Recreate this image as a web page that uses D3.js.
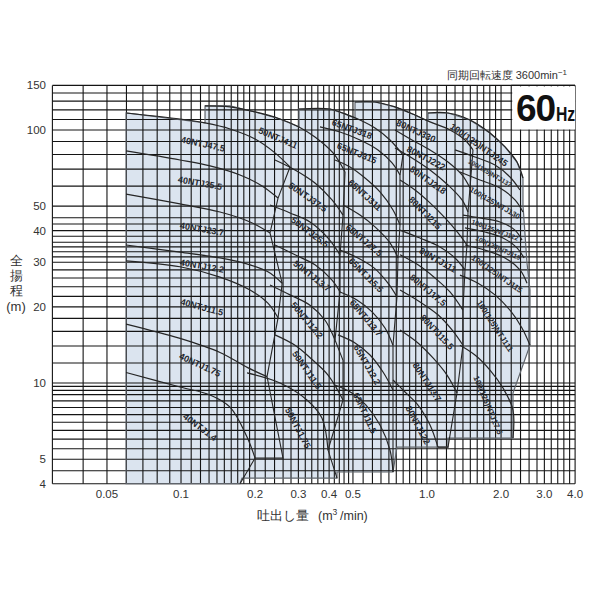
<!DOCTYPE html>
<html lang="ja">
<head>
<meta charset="utf-8">
<title>60Hz pump chart</title>
<script src="https://cdn.jsdelivr.net/npm/d3@7"></script>
<style>
  body { margin: 0; background: #fff; }
  text { font-family: "Liberation Sans", Arial, sans-serif; }
</style>
</head>
<body>
<div id="chart"></div>
<script>
// grid / tick values
var xGrid = [0.03, 0.04, 0.05, 0.06, 0.07, 0.08, 0.09, 0.1,
  0.11, 0.12, 0.13, 0.14, 0.15, 0.16, 0.17, 0.18, 0.19, 0.2,
  0.22, 0.24, 0.26, 0.28, 0.3, 0.32, 0.34, 0.36, 0.38, 0.4,
  0.42, 0.44, 0.46, 0.48, 0.5,
  0.55, 0.6, 0.65, 0.7, 0.75, 0.8, 0.85, 0.9, 0.95, 1.0,
  1.1, 1.2, 1.3, 1.4, 1.5, 1.6, 1.7, 1.8, 1.9, 2.0,
  2.2, 2.4, 2.6, 2.8, 3.0, 3.2, 3.4, 3.6, 3.8, 4.0];
var yGrid = [4, 4.5, 5, 5.5, 6, 6.5, 7, 7.5, 8, 8.5, 9, 9.35, 9.7, 10,
  12, 14, 16, 18, 20, 22, 24, 26, 28, 30, 31.5, 33, 34.5, 36, 38, 40, 42.5, 45, 50,
  60, 70, 80, 90, 100, 110, 120, 130, 140, 150];
var xTicks = [0.05, 0.1, 0.2, 0.3, 0.4, 0.5, 1.0, 2.0, 3.0, 4.0];
var xTickText = ["0.05", "0.1", "0.2", "0.3", "0.4", "0.5", "1.0", "2.0", "3.0", "4.0"];
var yTicks = [4, 5, 10, 20, 30, 40, 50, 100, 150];

// light-blue selection area  [Q m3/min, H m]
var area = [[0.0598, 4.0], [0.0598, 116.7], [0.1252, 106.6], [0.1252, 124.4], [0.1582, 124.4],
  [0.2, 117.8], [0.2526, 110.5], [0.3017, 102.8], [0.3017, 121.0], [0.4034, 121.0],
  [0.4642, 115.7], [0.5097, 111.5], [0.5097, 129.0], [0.6146, 129.0], [0.7411, 123.3],
  [0.8939, 114.6], [1.009, 108.5], [1.009, 116.7], [1.2172, 116.7], [1.4952, 109.5],
  [1.8032, 97.3], [2.0754, 85.7], [2.322, 74.7], [2.4557, 64.6], [2.4557, 50.5],
  [2.55, 29.8], [2.6226, 23.3], [2.6226, 14.1], [2.2365, 9.13], [2.2365, 6.06],
  [1.2172, 6.06], [1.2172, 5.58], [0.755, 5.58], [0.7274, 4.45], [0.4307, 4.45],
  [0.4307, 4.21], [0.177, 4.21], [0.1737, 4.0]];

// 40NTJ  47.5 / 35.5 / 23.7 / 12.2 / 11.5 / 1.75 / 1.4
var nt40 = [
  [[0.0598, 116.7], [0.0991, 110.5], [0.1252, 106.6], [0.1582, 100.9], [0.2, 92.1], [0.241, 81.2], [0.2774, 71.4]],
  [[0.0598, 82.6], [0.0991, 76.1], [0.1312, 72.1], [0.1737, 66.4], [0.2135, 60.1], [0.248, 53.8]],
  [[0.0598, 55.8], [0.0991, 51.0], [0.144, 47.4], [0.1908, 43.3], [0.23, 39.2]],
  [[0.0598, 35.1], [0.0991, 32.9], [0.144, 31.2], [0.1908, 29.3], [0.2255, 27.5], [0.2577, 24.8]],
  [[0.0598, 30.4], [0.0991, 28.8], [0.144, 26.2], [0.1908, 23.3], [0.2255, 20.7], [0.248, 18.1]],
  [[0.0598, 17.1], [0.0991, 15.0], [0.144, 13.2], [0.1866, 11.5], [0.2237, 10.6]],
  [[0.0598, 11.0], [0.0991, 9.64], [0.1312, 8.97], [0.1582, 8.03], [0.1855, 6.12], [0.2, 5.05]]
];
// 50NTJ  411 / 37.5 / 25.5 / 13.7 / 12.2 / 11.5 / 1.75
var nt50 = [
  [[0.1252, 124.4], [0.1582, 123.3], [0.2, 117.8], [0.2526, 110.5], [0.3017, 102.8], [0.3504, 93.8], [0.415, 81.1], [0.4642, 68.2]],
  [[0.241, 76.1], [0.2907, 69.5], [0.3504, 61.7], [0.411, 52.9], [0.4556, 46.1]],
  [[0.23, 50.5], [0.2774, 47.0], [0.3344, 43.3], [0.396, 37.4], [0.443, 32.1]],
  [[0.241, 35.1], [0.2907, 32.1], [0.3504, 29.3], [0.411, 25.5], [0.443, 22.9]],
  [[0.23, 24.4], [0.2774, 22.3], [0.3344, 20.3], [0.385, 17.7], [0.4227, 14.8]],
  [[0.241, 15.5], [0.2907, 14.1], [0.3376, 12.5], [0.396, 10.75], [0.4556, 8.57]],
  [[0.1855, 10.96], [0.2526, 10.0], [0.325, 8.57], [0.374, 7.27], [0.396, 5.43]]
];
// 65NTJ  318 / 315 / 311 / 27.5 / 15.5 / 13.7 / 12.2 / 11.5
var nt65 = [
  [[0.3017, 121.0], [0.4034, 121.0], [0.4642, 115.7], [0.534, 109.5], [0.6146, 101.8], [0.7073, 91.3], [0.7988, 79.7]],
  [[0.3673, 102.8], [0.443, 98.2], [0.534, 91.3], [0.632, 83.4], [0.721, 74.1], [0.7767, 66.4]],
  [[0.4227, 76.1], [0.4864, 71.4], [0.5598, 64.6], [0.644, 56.9], [0.7274, 48.3], [0.7767, 42.1]],
  [[0.4556, 50.5], [0.534, 46.1], [0.6146, 41.4], [0.7073, 35.8], [0.762, 31.2]],
  [[0.443, 33.5], [0.524, 31.2], [0.609, 28.5], [0.694, 24.8], [0.755, 21.9]],
  [[0.443, 22.9], [0.519, 21.3], [0.598, 19.1], [0.675, 16.5], [0.7274, 14.1]],
  [[0.4346, 15.5], [0.51, 14.4], [0.5865, 12.9], [0.6625, 11.05], [0.7274, 9.38]],
  [[0.4227, 9.82], [0.4955, 9.13], [0.565, 8.18], [0.644, 6.82], [0.7073, 5.43], [0.7274, 4.45]]
];
// 80NTJ  330 / 222 / 218 / 215 / 111 / 17.5 / 15.5 / 13.7 / 122
var nt80 = [
  [[0.5097, 129.0], [0.6146, 129.0], [0.7411, 123.3], [0.8939, 114.6], [1.0285, 107.6], [1.24, 100], [1.427, 91.3], [1.538, 83.4]],
  [[0.7411, 100], [0.869, 91.3], [1.0285, 83.4], [1.2172, 74.7], [1.388, 66.4], [1.4952, 59.0]],
  [[0.7411, 84.9], [0.869, 77.5], [1.0285, 69.5], [1.2172, 60.6], [1.388, 52.9], [1.468, 47.4]],
  [[0.7767, 63.4], [0.8939, 57.9], [1.0285, 51.5], [1.1835, 44.9], [1.337, 39.2], [1.454, 35.1]],
  [[0.7767, 40.2], [0.9366, 37.4], [1.1293, 34.5], [1.2995, 31.2], [1.427, 28.0]],
  [[0.7767, 32.1], [0.919, 29.3], [1.0777, 26.0], [1.24, 22.9], [1.4, 19.4]],
  [[0.7767, 23.3], [0.9366, 20.9], [1.108, 18.6], [1.264, 16.2], [1.4, 14.1]],
  [[0.7767, 16.2], [0.919, 14.4], [1.058, 12.56], [1.206, 10.75], [1.324, 9.13]],
  [[0.7274, 10.28], [0.8139, 9.21], [0.919, 8.18], [1.0285, 6.82], [1.108, 5.58]]
];
// 100(125)NTJ  245 / 137 / 130 / 122 / 119 / 115 / 111 / 17.5
var nt100 = [
  [[1.009, 116.7], [1.2172, 116.7], [1.4952, 109.5], [1.8032, 97.3], [2.0754, 85.7], [2.322, 74.7], [2.4557, 64.6]],
  [[1.2995, 83.4], [1.5668, 78.2], [1.8894, 72.7], [2.1746, 65.2], [2.3878, 57.9]],
  [[1.3617, 68.2], [1.6419, 63.4], [1.98, 59.0], [2.2788, 52.9], [2.4557, 47.4]],
  [[1.4, 46.1], [1.6419, 44.9], [1.98, 43.3], [2.2788, 40.2], [2.433, 36.7]],
  [[1.427, 41.0], [1.7208, 39.5], [2.037, 37.4], [2.322, 34.2], [2.48, 31.2]],
  [[1.427, 35.1], [1.7208, 33.5], [2.0754, 31.2], [2.3878, 28.0], [2.55, 24.8]],
  [[1.3617, 26.7], [1.612, 24.8], [1.8894, 22.3], [2.1746, 19.4], [2.433, 16.5], [2.6226, 14.1]],
  [[1.3617, 14.1], [1.5668, 12.9], [1.8032, 11.25], [2.037, 9.55], [2.2365, 7.82], [2.2365, 6.06]]
];

// lines joining the curve ends (range limits)
var limits = [
  [[0.2774, 71.4], [0.248, 53.8], [0.23, 39.2], [0.2577, 24.8], [0.248, 18.1], [0.2237, 10.6], [0.2598, 5.05], [0.2, 5.05], [0.1737, 4.0]],
  [[0.4642, 68.2], [0.4556, 46.1], [0.443, 32.1], [0.443, 22.9], [0.4227, 14.8], [0.4556, 12.3], [0.4556, 8.57], [0.396, 5.43], [0.4307, 4.21]],
  [[0.7988, 79.7], [0.7767, 66.4], [0.7767, 42.1], [0.762, 31.2], [0.755, 21.9], [0.7274, 14.1], [0.7274, 9.38], [0.7274, 4.45]],
  [[1.538, 83.4], [1.4952, 59.0], [1.468, 47.4], [1.454, 35.1], [1.427, 28.0], [1.4, 19.4], [1.4, 14.1], [1.324, 9.13], [1.2172, 5.58], [1.108, 5.58]]
];

// model names  [text, Q, H, angle, font size]
var labels = [
  ["40NTJ47.5", 0.1229, 88.0, 12, 9], ["40NTJ35.5", 0.1195, 61.7, 10, 9],
  ["40NTJ23.7", 0.1217, 40.6, 10, 9], ["40NTJ12.2", 0.1217, 29.0, 10, 9],
  ["40NTJ11.5", 0.1217, 19.95, 15, 9], ["40NTJ1.75", 0.1195, 11.8, 25, 9],
  ["40NTJ1.4", 0.1195, 6.7, 37, 9],
  ["50NTJ411", 0.248, 93.0, 23, 9], ["50NTJ37.5", 0.328, 54.3, 35, 9],
  ["50NTJ25.5", 0.3344, 39.5, 37, 9], ["50NTJ13.7", 0.341, 26.5, 38, 9],
  ["50NTJ12.2", 0.325, 17.7, 50, 9], ["50NTJ11.5", 0.325, 11.25, 55, 9],
  ["50NTJ1.75", 0.299, 6.64, 62, 9],
  ["65NTJ318", 0.4955, 100.9, 20, 9], ["65NTJ315", 0.519, 81.1, 22, 9],
  ["65NTJ311", 0.5598, 55.3, 42, 9], ["65NTJ27.5", 0.5546, 36.7, 40, 9],
  ["65NTJ15.5", 0.565, 26.7, 45, 9], ["65NTJ13.7", 0.565, 18.06, 50, 9],
  ["65NTJ12.2", 0.5704, 11.8, 60, 9], ["65NTJ11.5", 0.5598, 7.61, 65, 9],
  ["80NTJ330", 0.902, 99.1, 25, 9], ["80NTJ222", 0.991, 77.5, 28, 9],
  ["80NTJ218", 1.009, 63.4, 35, 9], ["80NTJ215", 0.9815, 47.0, 45, 9],
  ["80NTJ111", 1.108, 30.6, 30, 9], ["80NTJ17.5", 1.009, 23.3, 40, 9],
  ["80NTJ15.5", 1.098, 15.9, 47, 9], ["80NTJ13.7", 1.0, 10.09, 57, 9],
  ["80NTJ122", 0.919, 6.82, 62, 9],
  ["100(125)NTJ245", 1.627, 87.3, 35, 9], ["100(125)NTJ137", 1.8032, 67.6, 30, 6.5],
  ["100(125)NTJ130", 1.8894, 51.5, 30, 7.5], ["100(125)NTJ122", 1.8894, 40.2, 20, 6.5],
  ["100(125)NTJ119", 1.944, 34.2, 25, 6.5], ["100(125)NTJ115", 1.926, 27.0, 35, 8],
  ["100(125)NTJ111", 1.8894, 16.8, 57, 8], ["100(125)NTJ17.5", 1.77, 8.18, 67, 8]
];

var W = 591, H = 591;
var x = d3.scaleLog().domain([0.03, 4]).range([52.4, 575.1]);
var y = d3.scaleLog().domain([4, 150]).range([483.7, 85.4]);

var svg = d3.select("#chart").append("svg")
  .attr("width", W).attr("height", H);

var line = d3.line()
  .x(function (d) { return x(d[0]); })
  .y(function (d) { return y(d[1]); })
  .curve(d3.curveCatmullRom.alpha(0.5));
var poly = d3.line()
  .x(function (d) { return x(d[0]); })
  .y(function (d) { return y(d[1]); });

// shaded area
svg.append("path")
  .datum(area)
  .attr("fill", "#dbe4ef")
  .attr("d", function (d) { return poly(d) + "Z"; });

// grid
svg.append("g").selectAll("line").data(xGrid).enter().append("line")
  .attr("x1", function (d) { return x(d); }).attr("x2", function (d) { return x(d); })
  .attr("y1", y(150)).attr("y2", y(4))
  .attr("stroke", "#141414").attr("stroke-width", 1.1);
svg.append("g").selectAll("line").data(yGrid).enter().append("line")
  .attr("y1", function (d) { return y(d); }).attr("y2", function (d) { return y(d); })
  .attr("x1", x(0.03)).attr("x2", x(4))
  .attr("stroke", "#141414").attr("stroke-width", 1.1);

// outline of the area
svg.append("path")
  .datum(area)
  .attr("fill", "none").attr("stroke", "#5f646b").attr("stroke-width", 1.2)
  .attr("d", function (d) { return poly(d) + "Z"; });

// curves
var families = [nt40, nt50, nt65, nt80, nt100];
families.forEach(function (fam) {
  svg.append("g").selectAll("path").data(fam).enter().append("path")
    .attr("fill", "none").attr("stroke", "#262626").attr("stroke-width", 1.2)
    .attr("d", line);
});
svg.append("g").selectAll("path").data(limits).enter().append("path")
  .attr("fill", "none").attr("stroke", "#262626").attr("stroke-width", 1.1)
  .attr("d", poly);

// curve labels
svg.append("g").selectAll("text").data(labels).enter().append("text")
  .attr("transform", function (d) { return "translate(" + x(d[1]) + "," + y(d[2]) + ") rotate(" + d[3] + ")"; })
  .attr("text-anchor", "middle").attr("dy", "0.35em")
  .attr("font-size", function (d) { return d[4]; })
  .attr("font-weight", "bold")
  .attr("fill", "#25282e")
  .text(function (d) { return d[0]; });

// 60Hz box
svg.append("rect")
  .attr("x", x(2.2) + 1).attr("y", y(150) + 1)
  .attr("width", x(4) - x(2.2) - 1).attr("height", y(100) - y(150) - 1.5)
  .attr("fill", "#fff");
svg.append("line").attr("x1", x(2.2)).attr("x2", x(4)).attr("y1", y(150)).attr("y2", y(150))
  .attr("stroke", "#141414").attr("stroke-width", 1.1);
svg.append("text").attr("x", 516).attr("y", 121)
  .attr("font-weight", "bold").attr("font-size", 37).attr("fill", "#111")
  .attr("letter-spacing", -1).text("60");
svg.append("text").attr("transform", "translate(556,121) scale(0.75,1)")
  .attr("font-weight", "bold").attr("font-size", 21).attr("fill", "#111").text("Hz");

svg.append("text").attr("x", 567).attr("y", 79).attr("text-anchor", "end")
  .attr("font-size", 11).attr("fill", "#333")
  .html("同期回転速度 3600min<tspan dy='-4' font-size='8'>−1</tspan>");

// tick labels
svg.append("g").selectAll("text").data(xTicks).enter().append("text")
  .attr("x", function (d) { return x(d); }).attr("y", 498)
  .attr("text-anchor", "middle").attr("font-size", 11.5).attr("fill", "#333")
  .text(function (d, i) { return xTickText[i]; });
svg.append("g").selectAll("text").data(yTicks).enter().append("text")
  .attr("x", 46).attr("y", function (d) { return y(d); })
  .attr("dy", "0.35em").attr("text-anchor", "end").attr("font-size", 11.5).attr("fill", "#333")
  .text(function (d) { return d; });

// axis titles
var yt = ["全", "揚", "程", "(m)"];
svg.append("g").selectAll("text").data(yt).enter().append("text")
  .attr("x", 16).attr("y", function (d, i) { return 265 + i * 15 + (i === 3 ? 1 : 0); })
  .attr("text-anchor", "middle").attr("font-size", 13).attr("fill", "#333")
  .text(function (d) { return d; });
var xt = svg.append("text").attr("y", 520).attr("font-size", 12.5).attr("fill", "#333");
xt.append("tspan").attr("x", 257).text("吐出し量");
xt.append("tspan").attr("x", 318).text("(m");
xt.append("tspan").attr("dy", -5).attr("font-size", 8.5).text("3");
xt.append("tspan").attr("x", 340).attr("dy", 5).text("/min)");
</script>
</body>
</html>
